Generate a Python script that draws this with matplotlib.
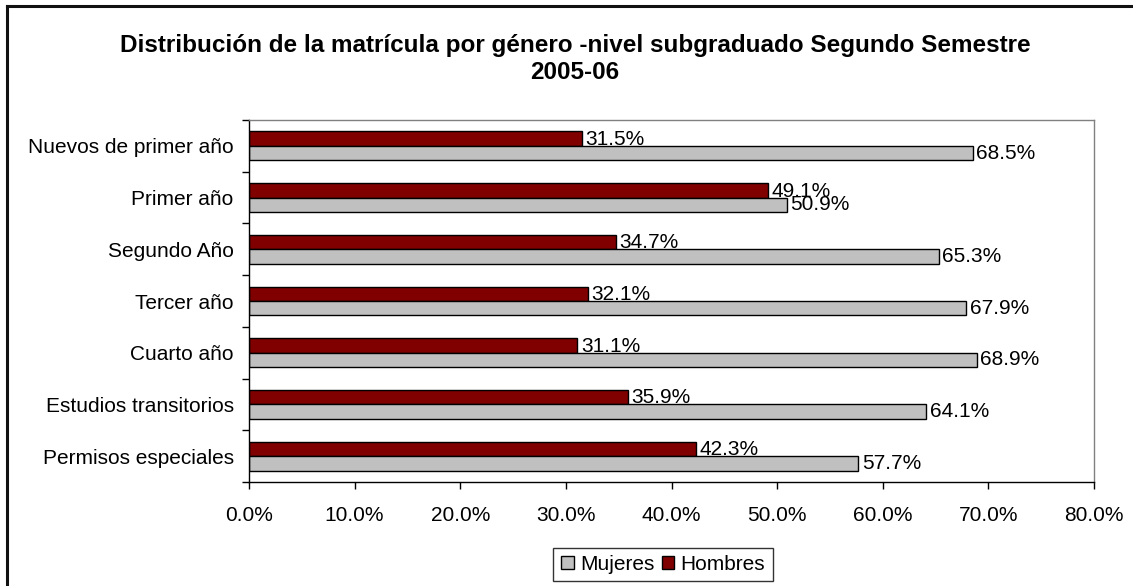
import matplotlib
matplotlib.use("Agg")
import matplotlib.pyplot as plt
from matplotlib.lines import Line2D
from matplotlib.ticker import FixedLocator, FuncFormatter
import numpy as np

plt.rcParams['font.family'] = ['Liberation Sans', 'DejaVu Sans']

categories = ["Nuevos de primer año", "Primer año", "Segundo Año", "Tercer año",
              "Cuarto año", "Estudios transitorios", "Permisos especiales"]
hombres = [31.5, 49.1, 34.7, 32.1, 31.1, 35.9, 42.3]
mujeres = [68.5, 50.9, 65.3, 67.9, 68.9, 64.1, 57.7]
title = "Distribución de la matrícula por género -nivel subgraduado Segundo Semestre\n2005-06"

W, H = 1133, 586
FS = 15
fig = plt.figure(figsize=(W/100, H/100), dpi=100)
ax = fig.add_axes([249/W, 1-482/H, 845/W, 362/H])

y = np.arange(len(categories))
h = 0.28
red = "#800000"
grey = "#C0C0C0"
bh = ax.barh(y - h/2, hombres, height=h, color=red, edgecolor="black", linewidth=1, label="Hombres")
bm = ax.barh(y + h/2, mujeres, height=h, color=grey, edgecolor="black", linewidth=1, label="Mujeres")

for yi, v in zip(y, hombres):
    ax.annotate(f"{v:.1f}%", (v, yi - h/2), xytext=(2.5, -0.5), textcoords="offset points",
                va="center", ha="left", fontsize=FS)
for yi, v in zip(y, mujeres):
    ax.annotate(f"{v:.1f}%", (v, yi + h/2), xytext=(2.5, 0), textcoords="offset points",
                va="center", ha="left", fontsize=FS)

ax.set_xlim(0, 80)
ax.set_ylim(len(categories) - 0.5, -0.5)
ax.set_xticks(np.arange(0, 81, 10))
ax.xaxis.set_major_formatter(FuncFormatter(lambda v, p: f"{v:.1f}%"))
ax.tick_params(axis="x", direction="out", length=5, width=1, pad=12, labelsize=FS)

ax.set_yticks(y)
ax.set_yticklabels(categories, fontsize=FS)
ax.tick_params(axis="y", which="major", length=0, pad=11)
ax.yaxis.set_minor_locator(FixedLocator(np.arange(-0.5, len(categories), 1.0)))
ax.tick_params(axis="y", which="minor", direction="out", length=5, width=1)

ax.spines["left"].set_color("black")
ax.spines["bottom"].set_color("black")
ax.spines["top"].set_color("#808080")
ax.spines["right"].set_color("#808080")
for s in ax.spines.values():
    s.set_linewidth(1)

fig.text(575/W, 1-59/H, title, ha="center", va="center",
         fontsize=17.5, fontweight="bold", linespacing=1.2)

leg = fig.legend(handles=[bm, bh], labels=["Mujeres", "Hombres"], loc="center",
                 bbox_to_anchor=(663/W, 1-564.5/H), ncol=2, fontsize=FS,
                 frameon=True, fancybox=False, handlelength=0.62, handleheight=0.62,
                 handletextpad=0.3, columnspacing=0.35, borderpad=0.35, borderaxespad=0)
leg.get_frame().set_edgecolor("black")
leg.get_frame().set_linewidth(1)

fig.add_artist(Line2D([6.5/W, 6.5/W], [0, 1-5.5/H], color="#111111", linewidth=2.2, transform=fig.transFigure))
fig.add_artist(Line2D([6.5/W, 1], [1-5.5/H, 1-5.5/H], color="#111111", linewidth=2.2, transform=fig.transFigure))

fig.savefig("out.png", dpi=100)
